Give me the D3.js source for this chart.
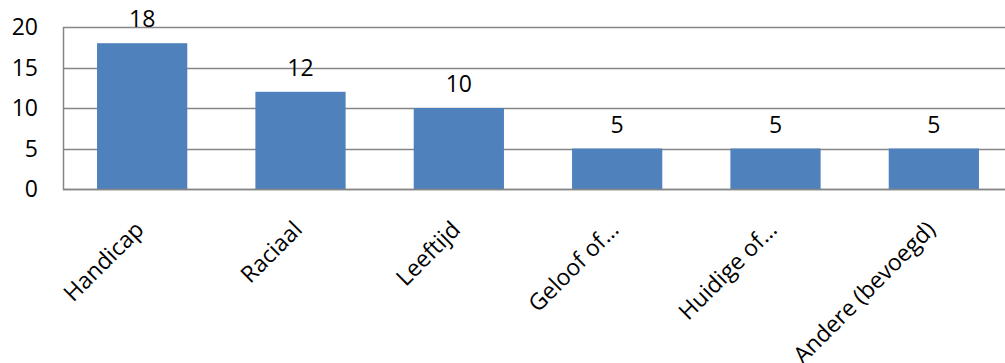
<!DOCTYPE html>
<html><head><meta charset="utf-8">
<script src="https://cdn.jsdelivr.net/npm/d3@7"></script>
<style>body{margin:0;background:#fff}svg{display:block}text{font-family:"Open Sans",sans-serif;fill:#000}</style>
</head><body>
<script>
const categories = ["Handicap","Raciaal","Leeftijd","Geloof of\u2026","Huidige of\u2026","Andere (bevoegd)"];
const values = [18,12,10,5,5,5];
const yTicks = [0,5,10,15,20];

const W=1005,H=363;
const svg=d3.select("body").append("svg").attr("width",W).attr("height",H);
const x=d3.scaleBand().domain(categories).range([63,1013]).paddingInner(0.43).paddingOuter(0.215);
const y=d3.scaleLinear().domain([0,20]).range([189,27]);

// gridlines
svg.append("g").selectAll("line").data(yTicks).join("line")
 .attr("x1",63).attr("x2",W).attr("y1",d=>Math.round(y(d))+0.5).attr("y2",d=>Math.round(y(d))+0.5)
 .attr("stroke","#868686").attr("stroke-width",1.5);
// left axis line
svg.append("line").attr("x1",63.5).attr("x2",63.5).attr("y1",y(20)).attr("y2",y(0)+1)
 .attr("stroke","#868686").attr("stroke-width",1.5);

// bars
svg.append("g").selectAll("rect").data(values).join("rect")
 .attr("x",(d,i)=>x(categories[i])).attr("width",x.bandwidth())
 .attr("y",d=>y(d)).attr("height",d=>y(0)-y(d)).attr("fill","#4F81BD");
// redraw baseline over bars
svg.append("line").attr("x1",63).attr("x2",W).attr("y1",Math.round(y(0))+0.5).attr("y2",Math.round(y(0))+0.5)
 .attr("stroke","#868686").attr("stroke-width",1.5);

// value labels
svg.append("g").selectAll("text").data(values).join("text")
 .attr("x",(d,i)=>x(categories[i])+x.bandwidth()/2).attr("y",d=>y(d)-16)
 .attr("text-anchor","middle").attr("font-size",23).text(d=>d);

// y tick labels
svg.append("g").selectAll("text").data(yTicks).join("text")
 .attr("x",38).attr("y",d=>y(d)).attr("dy","0.36em")
 .attr("text-anchor","end").attr("font-size",23).text(d=>d);

// category labels
svg.append("g").selectAll("text").data(categories).join("text")
 .attr("transform",d=>`translate(${x(d)+x.bandwidth()/2+3},${231}) rotate(-45)`)
 .attr("text-anchor","end").attr("font-size",23).text(d=>d);
</script>
</body></html>
